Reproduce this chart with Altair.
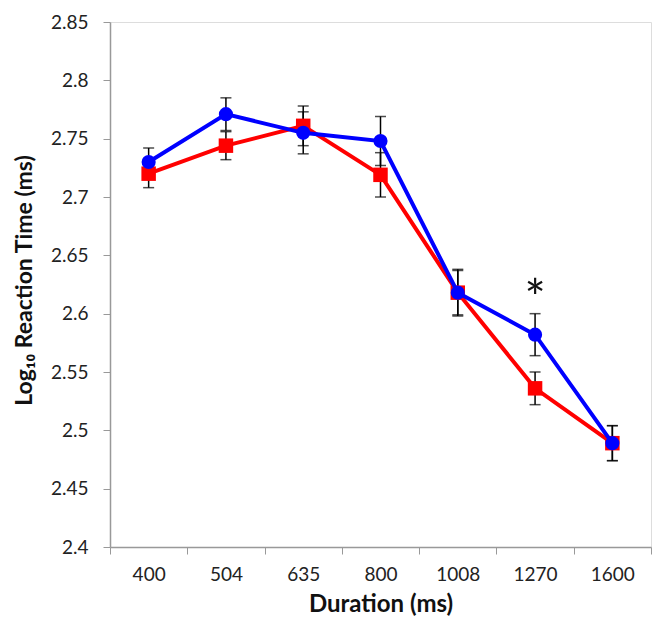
import altair as alt
import pandas as pd

durations = ["400", "504", "635", "800", "1008", "1270", "1600"]
red_vals = [2.720, 2.744, 2.761, 2.719, 2.618, 2.536, 2.489]
red_err = [0.012, 0.012, 0.017, 0.019, 0.020, 0.014, 0.015]
blue_vals = [2.730, 2.771, 2.755, 2.748, 2.618, 2.582, 2.489]
blue_err = [0.012, 0.014, 0.018, 0.021, 0.019, 0.018, 0.015]
star_x = ["1270"]
star_y = [2.620]

rows = []
for d, v, e in zip(durations, red_vals, red_err):
    rows.append({"dur": d, "series": "red", "y": v, "lo": v - e, "hi": v + e})
for d, v, e in zip(durations, blue_vals, blue_err):
    rows.append({"dur": d, "series": "blue", "y": v, "lo": v - e, "hi": v + e})
df = pd.DataFrame(rows)
star_df = pd.DataFrame({"dur": star_x, "y": star_y, "t": ["*"]})

FONT = "Lato"
xenc = alt.X("dur:N", sort=durations, title="Duration (ms)",
             scale=alt.Scale(paddingInner=0, paddingOuter=0),
             axis=alt.Axis(tickBand="extent", labelAngle=0, labelFontSize=19,
                           labelFont=FONT, labelColor="#222", tickSize=7,
                           labelPadding=11, titleFontSize=24, titleFont=FONT,
                           titleFontWeight="bold", titleColor="#111",
                           titlePadding=8, domainColor="#999",
                           tickColor="#999", domainWidth=1.5, grid=False))
yscale = alt.Scale(domain=[2.4, 2.85], nice=False, zero=False)
yaxis = alt.Axis(values=[2.4, 2.45, 2.5, 2.55, 2.6, 2.65, 2.7, 2.75, 2.8, 2.85],
                 format=".2~f", labelFontSize=19, labelFont=FONT, labelColor="#222",
                 tickSize=7, labelPadding=15, titleFontSize=23, titleFont=FONT,
                 titleFontWeight="bold", titleColor="#111", domainColor="#999",
                 tickColor="#999", domainWidth=1.5, grid=False,
                 titleX=-74, titleY=258)
ytitle = "Log\u2081\u2080 Reaction Time (ms)"

base = alt.Chart(df)
rules = base.mark_rule(color="black", strokeWidth=1.5).encode(
    x=xenc, y=alt.Y("lo:Q", scale=yscale, axis=yaxis, title=ytitle), y2="hi:Q")
caps_lo = base.mark_tick(color="black", thickness=1.5, size=11).encode(
    x=xenc, y=alt.Y("lo:Q", scale=yscale))
caps_hi = base.mark_tick(color="black", thickness=1.5, size=11).encode(
    x=xenc, y=alt.Y("hi:Q", scale=yscale))

def series_layers(name, color, shape, size):
    d = alt.Chart(df[df.series == name])
    line = d.mark_line(color=color, strokeWidth=4).encode(
        x=xenc, y=alt.Y("y:Q", scale=yscale))
    pts = d.mark_point(color=color, filled=True, opacity=1, shape=shape,
                       size=size).encode(x=xenc, y=alt.Y("y:Q", scale=yscale))
    return line + pts

red = series_layers("red", "#ff0000", "square", 210)
blue = series_layers("blue", "#0000ff", "circle", 200)

star = alt.Chart(star_df).mark_text(fontSize=50, font=FONT, color="#111",
                                    baseline="middle", dy=11).encode(
    x=alt.X("dur:N", sort=durations), y=alt.Y("y:Q", scale=yscale), text="t:N")

chart = alt.layer(rules, caps_lo, caps_hi, red, blue, star).properties(
    width=541, height=525,
    autosize=alt.AutoSizeParams(type="none"),
    padding={"left": 110, "top": 22, "right": 3, "bottom": 75},
).configure_view(stroke=None).configure(background="white")

chart.save("out.html", embed_options={"renderer": "svg", "actions": False})
